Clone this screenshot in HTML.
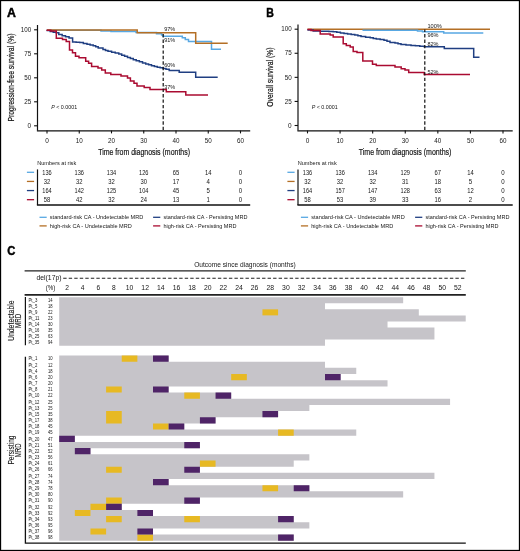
<!DOCTYPE html>
<html><head><meta charset="utf-8"><style>
html,body{margin:0;padding:0;background:#fff;width:520px;height:551px;overflow:hidden}
svg{display:block;will-change:transform}
text{font-family:"Liberation Sans",sans-serif}
</style></head><body>
<svg width="520" height="551" viewBox="0 0 520 551" font-family="Liberation Sans, sans-serif">
<rect x="0" y="0" width="520" height="551" fill="#fff"/>
<text x="7.1" y="17.1" font-size="11.9" text-anchor="start" font-weight="bold" fill="#000" style="stroke:#000;stroke-width:0.45px" textLength="8.9" lengthAdjust="spacingAndGlyphs">A</text>
<line x1="37.5" y1="25" x2="37.5" y2="130.6" stroke="#111" stroke-width="1.2"/>
<line x1="36.9" y1="130.8" x2="250.2" y2="130.8" stroke="#111" stroke-width="1.3"/>
<line x1="34.1" y1="29.8" x2="37.5" y2="29.8" stroke="#111" stroke-width="1.1"/>
<text x="31.2" y="32.0" font-size="6.4" text-anchor="end" font-weight="normal" fill="#161616" textLength="10.4" lengthAdjust="spacingAndGlyphs">100</text>
<line x1="34.1" y1="53.8" x2="37.5" y2="53.8" stroke="#111" stroke-width="1.1"/>
<text x="31.2" y="56.0" font-size="6.4" text-anchor="end" font-weight="normal" fill="#161616" textLength="7" lengthAdjust="spacingAndGlyphs">75</text>
<line x1="34.1" y1="77.8" x2="37.5" y2="77.8" stroke="#111" stroke-width="1.1"/>
<text x="31.2" y="80.0" font-size="6.4" text-anchor="end" font-weight="normal" fill="#161616" textLength="7" lengthAdjust="spacingAndGlyphs">50</text>
<line x1="34.1" y1="101.8" x2="37.5" y2="101.8" stroke="#111" stroke-width="1.1"/>
<text x="31.2" y="104.0" font-size="6.4" text-anchor="end" font-weight="normal" fill="#161616" textLength="7" lengthAdjust="spacingAndGlyphs">25</text>
<line x1="34.1" y1="125.8" x2="37.5" y2="125.8" stroke="#111" stroke-width="1.1"/>
<text x="31.2" y="128.0" font-size="6.4" text-anchor="end" font-weight="normal" fill="#161616" textLength="3.6" lengthAdjust="spacingAndGlyphs">0</text>
<line x1="47.0" y1="130.6" x2="47.0" y2="133.4" stroke="#111" stroke-width="1.1"/>
<text x="47.0" y="142.6" font-size="6.4" text-anchor="middle" font-weight="normal" fill="#161616" textLength="3.6" lengthAdjust="spacingAndGlyphs">0</text>
<line x1="79.25" y1="130.6" x2="79.25" y2="133.4" stroke="#111" stroke-width="1.1"/>
<text x="79.25" y="142.6" font-size="6.4" text-anchor="middle" font-weight="normal" fill="#161616" textLength="7" lengthAdjust="spacingAndGlyphs">10</text>
<line x1="111.5" y1="130.6" x2="111.5" y2="133.4" stroke="#111" stroke-width="1.1"/>
<text x="111.5" y="142.6" font-size="6.4" text-anchor="middle" font-weight="normal" fill="#161616" textLength="7" lengthAdjust="spacingAndGlyphs">20</text>
<line x1="143.75" y1="130.6" x2="143.75" y2="133.4" stroke="#111" stroke-width="1.1"/>
<text x="143.75" y="142.6" font-size="6.4" text-anchor="middle" font-weight="normal" fill="#161616" textLength="7" lengthAdjust="spacingAndGlyphs">30</text>
<line x1="176.0" y1="130.6" x2="176.0" y2="133.4" stroke="#111" stroke-width="1.1"/>
<text x="176.0" y="142.6" font-size="6.4" text-anchor="middle" font-weight="normal" fill="#161616" textLength="7" lengthAdjust="spacingAndGlyphs">40</text>
<line x1="208.25" y1="130.6" x2="208.25" y2="133.4" stroke="#111" stroke-width="1.1"/>
<text x="208.25" y="142.6" font-size="6.4" text-anchor="middle" font-weight="normal" fill="#161616" textLength="7" lengthAdjust="spacingAndGlyphs">50</text>
<line x1="240.5" y1="130.6" x2="240.5" y2="133.4" stroke="#111" stroke-width="1.1"/>
<text x="240.5" y="142.6" font-size="6.4" text-anchor="middle" font-weight="normal" fill="#161616" textLength="7" lengthAdjust="spacingAndGlyphs">60</text>
<text x="98.2" y="154.8" font-size="9.4" text-anchor="start" font-weight="normal" fill="#161616" style="stroke:#161616;stroke-width:0.2px" textLength="91.8" lengthAdjust="spacingAndGlyphs">Time from diagnosis (months)</text>
<text transform="translate(14.3,77.5) rotate(-90)" x="0" y="0" font-size="8.6" text-anchor="middle" fill="#161616" style="stroke:#161616;stroke-width:0.2px" textLength="88" lengthAdjust="spacingAndGlyphs">Progression-free survival (%)</text>
<text x="51.2" y="108.9" font-size="5.6" fill="#161616" textLength="25.9" lengthAdjust="spacingAndGlyphs"><tspan font-style="italic">P</tspan> &lt; 0.0001</text>
<text x="37.2" y="164.8" font-size="6.0" text-anchor="start" font-weight="normal" fill="#161616" textLength="39" lengthAdjust="spacingAndGlyphs">Numbers at risk</text>
<line x1="37.5" y1="169.4" x2="37.5" y2="205" stroke="#111" stroke-width="1.2"/>
<line x1="36.9" y1="205" x2="250.2" y2="205" stroke="#111" stroke-width="1.3"/>
<line x1="26.9" y1="172.3" x2="34.1" y2="172.3" stroke="#58a8e3" stroke-width="1.3"/>
<text x="47.0" y="174.60000000000002" font-size="6.4" text-anchor="middle" font-weight="normal" fill="#161616" textLength="9.4" lengthAdjust="spacingAndGlyphs">136</text>
<text x="79.25" y="174.60000000000002" font-size="6.4" text-anchor="middle" font-weight="normal" fill="#161616" textLength="9.4" lengthAdjust="spacingAndGlyphs">136</text>
<text x="111.5" y="174.60000000000002" font-size="6.4" text-anchor="middle" font-weight="normal" fill="#161616" textLength="9.4" lengthAdjust="spacingAndGlyphs">134</text>
<text x="143.75" y="174.60000000000002" font-size="6.4" text-anchor="middle" font-weight="normal" fill="#161616" textLength="9.4" lengthAdjust="spacingAndGlyphs">126</text>
<text x="176.0" y="174.60000000000002" font-size="6.4" text-anchor="middle" font-weight="normal" fill="#161616" textLength="6.5" lengthAdjust="spacingAndGlyphs">65</text>
<text x="208.25" y="174.60000000000002" font-size="6.4" text-anchor="middle" font-weight="normal" fill="#161616" textLength="6.5" lengthAdjust="spacingAndGlyphs">14</text>
<text x="240.5" y="174.60000000000002" font-size="6.4" text-anchor="middle" font-weight="normal" fill="#161616" textLength="3.4" lengthAdjust="spacingAndGlyphs">0</text>
<line x1="26.9" y1="181.43" x2="34.1" y2="181.43" stroke="#b46f25" stroke-width="1.3"/>
<text x="47.0" y="183.73000000000002" font-size="6.4" text-anchor="middle" font-weight="normal" fill="#161616" textLength="6.5" lengthAdjust="spacingAndGlyphs">32</text>
<text x="79.25" y="183.73000000000002" font-size="6.4" text-anchor="middle" font-weight="normal" fill="#161616" textLength="6.5" lengthAdjust="spacingAndGlyphs">32</text>
<text x="111.5" y="183.73000000000002" font-size="6.4" text-anchor="middle" font-weight="normal" fill="#161616" textLength="6.5" lengthAdjust="spacingAndGlyphs">32</text>
<text x="143.75" y="183.73000000000002" font-size="6.4" text-anchor="middle" font-weight="normal" fill="#161616" textLength="6.5" lengthAdjust="spacingAndGlyphs">30</text>
<text x="176.0" y="183.73000000000002" font-size="6.4" text-anchor="middle" font-weight="normal" fill="#161616" textLength="6.5" lengthAdjust="spacingAndGlyphs">17</text>
<text x="208.25" y="183.73000000000002" font-size="6.4" text-anchor="middle" font-weight="normal" fill="#161616" textLength="3.4" lengthAdjust="spacingAndGlyphs">4</text>
<text x="240.5" y="183.73000000000002" font-size="6.4" text-anchor="middle" font-weight="normal" fill="#161616" textLength="3.4" lengthAdjust="spacingAndGlyphs">0</text>
<line x1="26.9" y1="190.56" x2="34.1" y2="190.56" stroke="#203f82" stroke-width="1.3"/>
<text x="47.0" y="192.86" font-size="6.4" text-anchor="middle" font-weight="normal" fill="#161616" textLength="9.4" lengthAdjust="spacingAndGlyphs">164</text>
<text x="79.25" y="192.86" font-size="6.4" text-anchor="middle" font-weight="normal" fill="#161616" textLength="9.4" lengthAdjust="spacingAndGlyphs">142</text>
<text x="111.5" y="192.86" font-size="6.4" text-anchor="middle" font-weight="normal" fill="#161616" textLength="9.4" lengthAdjust="spacingAndGlyphs">125</text>
<text x="143.75" y="192.86" font-size="6.4" text-anchor="middle" font-weight="normal" fill="#161616" textLength="9.4" lengthAdjust="spacingAndGlyphs">104</text>
<text x="176.0" y="192.86" font-size="6.4" text-anchor="middle" font-weight="normal" fill="#161616" textLength="6.5" lengthAdjust="spacingAndGlyphs">45</text>
<text x="208.25" y="192.86" font-size="6.4" text-anchor="middle" font-weight="normal" fill="#161616" textLength="3.4" lengthAdjust="spacingAndGlyphs">5</text>
<text x="240.5" y="192.86" font-size="6.4" text-anchor="middle" font-weight="normal" fill="#161616" textLength="3.4" lengthAdjust="spacingAndGlyphs">0</text>
<line x1="26.9" y1="199.69" x2="34.1" y2="199.69" stroke="#aa0b31" stroke-width="1.3"/>
<text x="47.0" y="201.99" font-size="6.4" text-anchor="middle" font-weight="normal" fill="#161616" textLength="6.5" lengthAdjust="spacingAndGlyphs">58</text>
<text x="79.25" y="201.99" font-size="6.4" text-anchor="middle" font-weight="normal" fill="#161616" textLength="6.5" lengthAdjust="spacingAndGlyphs">42</text>
<text x="111.5" y="201.99" font-size="6.4" text-anchor="middle" font-weight="normal" fill="#161616" textLength="6.5" lengthAdjust="spacingAndGlyphs">32</text>
<text x="143.75" y="201.99" font-size="6.4" text-anchor="middle" font-weight="normal" fill="#161616" textLength="6.5" lengthAdjust="spacingAndGlyphs">24</text>
<text x="176.0" y="201.99" font-size="6.4" text-anchor="middle" font-weight="normal" fill="#161616" textLength="6.5" lengthAdjust="spacingAndGlyphs">13</text>
<text x="208.25" y="201.99" font-size="6.4" text-anchor="middle" font-weight="normal" fill="#161616" textLength="3.4" lengthAdjust="spacingAndGlyphs">1</text>
<text x="240.5" y="201.99" font-size="6.4" text-anchor="middle" font-weight="normal" fill="#161616" textLength="3.4" lengthAdjust="spacingAndGlyphs">0</text>
<line x1="39.5" y1="217.3" x2="46.7" y2="217.3" stroke="#58a8e3" stroke-width="1.3"/>
<text x="49.8" y="219.4" font-size="6.1" text-anchor="start" font-weight="normal" fill="#161616" textLength="93.5" lengthAdjust="spacingAndGlyphs">standard-risk CA - Undetectable MRD</text>
<line x1="39.5" y1="225.9" x2="46.7" y2="225.9" stroke="#b46f25" stroke-width="1.3"/>
<text x="49.8" y="228.0" font-size="6.1" text-anchor="start" font-weight="normal" fill="#161616" textLength="82" lengthAdjust="spacingAndGlyphs">high-risk CA - Undetectable MRD</text>
<line x1="153.1" y1="217.3" x2="160.29999999999998" y2="217.3" stroke="#203f82" stroke-width="1.3"/>
<text x="163.4" y="219.4" font-size="6.1" text-anchor="start" font-weight="normal" fill="#161616" textLength="84" lengthAdjust="spacingAndGlyphs">standard-risk CA - Persisting MRD</text>
<line x1="153.1" y1="225.9" x2="160.29999999999998" y2="225.9" stroke="#aa0b31" stroke-width="1.3"/>
<text x="163.4" y="228.0" font-size="6.1" text-anchor="start" font-weight="normal" fill="#161616" textLength="73" lengthAdjust="spacingAndGlyphs">high-risk CA - Persisting MRD</text>
<path d="M46.5,30.6 H50.2 V31.5 H53.25 V32.15 H56.3 V32.8 H58.8 V34.6 H62.15 V35.7 H65.5 V36.8 H69.05 V38.05 H72.6 V39.3 H72.6 V42 H76.15 V42.3 H79.7 V42.6 H83.35 V43.4 H87.0 V44.2 H90.1 V44.95 H93.2 V45.7 H95.7 V46.8 H98.2 V47.9 H103.0 V49.6 H105.5 V50.4 H108.0 V51.2 H111.6 V52.13 H115.2 V53.07 H118.8 V54.0 H121.7 V55.17 H124.6 V56.33 H127.5 V57.5 H130.4 V58.57 H133.3 V59.63 H136.2 V60.7 H139.37 V61.8 H142.53 V62.9 H145.7 V64.0 H148.6 V64.87 H151.5 V65.73 H154.4 V66.6 H157.27 V67.23 H160.13 V67.87 H163.0 V68.5 H166.0 V69.2 H169.2 V70.6 H179.2 V72.3 H195.7 V77.2 H217.7" fill="none" stroke="#203f82" stroke-width="1.5"/>
<path d="M47,30.2 H101 V30.9 H111 V31.4 H136 V32.6 H156.5 V33.8 H161.6 V35 H163 V36.3 H182.3 V37.7 H185.3 V39.4 H188.5 V41.5 H211.5 V49.2 H221" fill="none" stroke="#58a8e3" stroke-width="1.5" stroke-linejoin="miter" stroke-linecap="butt"/>
<path d="M47,29.9 H137.2 V32.8 H195.7 V43.3 H227.7" fill="none" stroke="#b46f25" stroke-width="1.5" stroke-linejoin="miter" stroke-linecap="butt"/>
<path d="M46.5,30.3 H50.8 V31 H56.3 V38.3 H62.5 V39.5 H66.2 V41.4 H69.5 V50 H72.5 V52.8 H75.5 V56.2 H79 V57.8 H85.7 V61.2 H88.6 V63.3 H91.6 V66.5 H98 V68 H101.7 V70 H105.3 V73 H110.8 V74.5 H121 V76 H127.5 V78 H130.4 V81 H134 V83.2 H137 V86 H144.2 V87.5 H150 V89.4 H166.3 V91.7 H185.8 V95 H208" fill="none" stroke="#aa0b31" stroke-width="1.5" stroke-linejoin="miter" stroke-linecap="butt"/>
<line x1="163.2" y1="33.8" x2="163.2" y2="130.2" stroke="#111" stroke-width="1.2" stroke-dasharray="3.4 2.05" stroke-dashoffset="5.2"/>
<text x="164.2" y="31.0" font-size="6.0" text-anchor="start" font-weight="normal" fill="#161616" textLength="11.1" lengthAdjust="spacingAndGlyphs">97%</text>
<text x="164.2" y="42.0" font-size="6.0" text-anchor="start" font-weight="normal" fill="#161616" textLength="11.1" lengthAdjust="spacingAndGlyphs">91%</text>
<text x="164.2" y="66.7" font-size="6.0" text-anchor="start" font-weight="normal" fill="#161616" textLength="11.1" lengthAdjust="spacingAndGlyphs">60%</text>
<text x="164.2" y="88.6" font-size="6.0" text-anchor="start" font-weight="normal" fill="#161616" textLength="11.1" lengthAdjust="spacingAndGlyphs">37%</text>
<text x="266.3" y="17.1" font-size="11.9" text-anchor="start" font-weight="bold" fill="#000" style="stroke:#000;stroke-width:0.45px" textLength="7.6" lengthAdjust="spacingAndGlyphs">B</text>
<line x1="298" y1="24.5" x2="298" y2="130.6" stroke="#111" stroke-width="1.2"/>
<line x1="297.4" y1="130.8" x2="512.7" y2="130.8" stroke="#111" stroke-width="1.3"/>
<line x1="294.6" y1="29.2" x2="298" y2="29.2" stroke="#111" stroke-width="1.1"/>
<text x="291.7" y="31.4" font-size="6.4" text-anchor="end" font-weight="normal" fill="#161616" textLength="10.4" lengthAdjust="spacingAndGlyphs">100</text>
<line x1="294.6" y1="53.275" x2="298" y2="53.275" stroke="#111" stroke-width="1.1"/>
<text x="291.7" y="55.475" font-size="6.4" text-anchor="end" font-weight="normal" fill="#161616" textLength="7" lengthAdjust="spacingAndGlyphs">75</text>
<line x1="294.6" y1="77.35" x2="298" y2="77.35" stroke="#111" stroke-width="1.1"/>
<text x="291.7" y="79.55" font-size="6.4" text-anchor="end" font-weight="normal" fill="#161616" textLength="7" lengthAdjust="spacingAndGlyphs">50</text>
<line x1="294.6" y1="101.425" x2="298" y2="101.425" stroke="#111" stroke-width="1.1"/>
<text x="291.7" y="103.625" font-size="6.4" text-anchor="end" font-weight="normal" fill="#161616" textLength="7" lengthAdjust="spacingAndGlyphs">25</text>
<line x1="294.6" y1="125.5" x2="298" y2="125.5" stroke="#111" stroke-width="1.1"/>
<text x="291.7" y="127.7" font-size="6.4" text-anchor="end" font-weight="normal" fill="#161616" textLength="3.6" lengthAdjust="spacingAndGlyphs">0</text>
<line x1="307.5" y1="130.6" x2="307.5" y2="133.4" stroke="#111" stroke-width="1.1"/>
<text x="307.5" y="142.6" font-size="6.4" text-anchor="middle" font-weight="normal" fill="#161616" textLength="3.6" lengthAdjust="spacingAndGlyphs">0</text>
<line x1="340.0833333333333" y1="130.6" x2="340.0833333333333" y2="133.4" stroke="#111" stroke-width="1.1"/>
<text x="340.0833333333333" y="142.6" font-size="6.4" text-anchor="middle" font-weight="normal" fill="#161616" textLength="7" lengthAdjust="spacingAndGlyphs">10</text>
<line x1="372.6666666666667" y1="130.6" x2="372.6666666666667" y2="133.4" stroke="#111" stroke-width="1.1"/>
<text x="372.6666666666667" y="142.6" font-size="6.4" text-anchor="middle" font-weight="normal" fill="#161616" textLength="7" lengthAdjust="spacingAndGlyphs">20</text>
<line x1="405.25" y1="130.6" x2="405.25" y2="133.4" stroke="#111" stroke-width="1.1"/>
<text x="405.25" y="142.6" font-size="6.4" text-anchor="middle" font-weight="normal" fill="#161616" textLength="7" lengthAdjust="spacingAndGlyphs">30</text>
<line x1="437.83333333333337" y1="130.6" x2="437.83333333333337" y2="133.4" stroke="#111" stroke-width="1.1"/>
<text x="437.83333333333337" y="142.6" font-size="6.4" text-anchor="middle" font-weight="normal" fill="#161616" textLength="7" lengthAdjust="spacingAndGlyphs">40</text>
<line x1="470.41666666666663" y1="130.6" x2="470.41666666666663" y2="133.4" stroke="#111" stroke-width="1.1"/>
<text x="470.41666666666663" y="142.6" font-size="6.4" text-anchor="middle" font-weight="normal" fill="#161616" textLength="7" lengthAdjust="spacingAndGlyphs">50</text>
<line x1="503.0" y1="130.6" x2="503.0" y2="133.4" stroke="#111" stroke-width="1.1"/>
<text x="503.0" y="142.6" font-size="6.4" text-anchor="middle" font-weight="normal" fill="#161616" textLength="7" lengthAdjust="spacingAndGlyphs">60</text>
<text x="358.7" y="154.8" font-size="9.4" text-anchor="start" font-weight="normal" fill="#161616" style="stroke:#161616;stroke-width:0.2px" textLength="92.75" lengthAdjust="spacingAndGlyphs">Time from diagnosis (months)</text>
<text transform="translate(273.2,77.1) rotate(-90)" x="0" y="0" font-size="8.6" text-anchor="middle" fill="#161616" style="stroke:#161616;stroke-width:0.2px" textLength="59.2" lengthAdjust="spacingAndGlyphs">Overall survival (%)</text>
<text x="311.7" y="108.9" font-size="5.6" fill="#161616" textLength="25.9" lengthAdjust="spacingAndGlyphs"><tspan font-style="italic">P</tspan> &lt; 0.0001</text>
<text x="297.7" y="164.8" font-size="6.0" text-anchor="start" font-weight="normal" fill="#161616" textLength="39" lengthAdjust="spacingAndGlyphs">Numbers at risk</text>
<line x1="298" y1="169.4" x2="298" y2="205" stroke="#111" stroke-width="1.2"/>
<line x1="297.4" y1="205" x2="512.7" y2="205" stroke="#111" stroke-width="1.3"/>
<line x1="287.4" y1="172.3" x2="294.6" y2="172.3" stroke="#58a8e3" stroke-width="1.3"/>
<text x="307.5" y="174.60000000000002" font-size="6.4" text-anchor="middle" font-weight="normal" fill="#161616" textLength="9.4" lengthAdjust="spacingAndGlyphs">136</text>
<text x="340.0833333333333" y="174.60000000000002" font-size="6.4" text-anchor="middle" font-weight="normal" fill="#161616" textLength="9.4" lengthAdjust="spacingAndGlyphs">136</text>
<text x="372.6666666666667" y="174.60000000000002" font-size="6.4" text-anchor="middle" font-weight="normal" fill="#161616" textLength="9.4" lengthAdjust="spacingAndGlyphs">134</text>
<text x="405.25" y="174.60000000000002" font-size="6.4" text-anchor="middle" font-weight="normal" fill="#161616" textLength="9.4" lengthAdjust="spacingAndGlyphs">129</text>
<text x="437.83333333333337" y="174.60000000000002" font-size="6.4" text-anchor="middle" font-weight="normal" fill="#161616" textLength="6.5" lengthAdjust="spacingAndGlyphs">67</text>
<text x="470.41666666666663" y="174.60000000000002" font-size="6.4" text-anchor="middle" font-weight="normal" fill="#161616" textLength="6.5" lengthAdjust="spacingAndGlyphs">14</text>
<text x="503.0" y="174.60000000000002" font-size="6.4" text-anchor="middle" font-weight="normal" fill="#161616" textLength="3.4" lengthAdjust="spacingAndGlyphs">0</text>
<line x1="287.4" y1="181.43" x2="294.6" y2="181.43" stroke="#b46f25" stroke-width="1.3"/>
<text x="307.5" y="183.73000000000002" font-size="6.4" text-anchor="middle" font-weight="normal" fill="#161616" textLength="6.5" lengthAdjust="spacingAndGlyphs">32</text>
<text x="340.0833333333333" y="183.73000000000002" font-size="6.4" text-anchor="middle" font-weight="normal" fill="#161616" textLength="6.5" lengthAdjust="spacingAndGlyphs">32</text>
<text x="372.6666666666667" y="183.73000000000002" font-size="6.4" text-anchor="middle" font-weight="normal" fill="#161616" textLength="6.5" lengthAdjust="spacingAndGlyphs">32</text>
<text x="405.25" y="183.73000000000002" font-size="6.4" text-anchor="middle" font-weight="normal" fill="#161616" textLength="6.5" lengthAdjust="spacingAndGlyphs">31</text>
<text x="437.83333333333337" y="183.73000000000002" font-size="6.4" text-anchor="middle" font-weight="normal" fill="#161616" textLength="6.5" lengthAdjust="spacingAndGlyphs">18</text>
<text x="470.41666666666663" y="183.73000000000002" font-size="6.4" text-anchor="middle" font-weight="normal" fill="#161616" textLength="3.4" lengthAdjust="spacingAndGlyphs">5</text>
<text x="503.0" y="183.73000000000002" font-size="6.4" text-anchor="middle" font-weight="normal" fill="#161616" textLength="3.4" lengthAdjust="spacingAndGlyphs">0</text>
<line x1="287.4" y1="190.56" x2="294.6" y2="190.56" stroke="#203f82" stroke-width="1.3"/>
<text x="307.5" y="192.86" font-size="6.4" text-anchor="middle" font-weight="normal" fill="#161616" textLength="9.4" lengthAdjust="spacingAndGlyphs">164</text>
<text x="340.0833333333333" y="192.86" font-size="6.4" text-anchor="middle" font-weight="normal" fill="#161616" textLength="9.4" lengthAdjust="spacingAndGlyphs">157</text>
<text x="372.6666666666667" y="192.86" font-size="6.4" text-anchor="middle" font-weight="normal" fill="#161616" textLength="9.4" lengthAdjust="spacingAndGlyphs">147</text>
<text x="405.25" y="192.86" font-size="6.4" text-anchor="middle" font-weight="normal" fill="#161616" textLength="9.4" lengthAdjust="spacingAndGlyphs">128</text>
<text x="437.83333333333337" y="192.86" font-size="6.4" text-anchor="middle" font-weight="normal" fill="#161616" textLength="6.5" lengthAdjust="spacingAndGlyphs">63</text>
<text x="470.41666666666663" y="192.86" font-size="6.4" text-anchor="middle" font-weight="normal" fill="#161616" textLength="6.5" lengthAdjust="spacingAndGlyphs">12</text>
<text x="503.0" y="192.86" font-size="6.4" text-anchor="middle" font-weight="normal" fill="#161616" textLength="3.4" lengthAdjust="spacingAndGlyphs">0</text>
<line x1="287.4" y1="199.69" x2="294.6" y2="199.69" stroke="#aa0b31" stroke-width="1.3"/>
<text x="307.5" y="201.99" font-size="6.4" text-anchor="middle" font-weight="normal" fill="#161616" textLength="6.5" lengthAdjust="spacingAndGlyphs">58</text>
<text x="340.0833333333333" y="201.99" font-size="6.4" text-anchor="middle" font-weight="normal" fill="#161616" textLength="6.5" lengthAdjust="spacingAndGlyphs">53</text>
<text x="372.6666666666667" y="201.99" font-size="6.4" text-anchor="middle" font-weight="normal" fill="#161616" textLength="6.5" lengthAdjust="spacingAndGlyphs">39</text>
<text x="405.25" y="201.99" font-size="6.4" text-anchor="middle" font-weight="normal" fill="#161616" textLength="6.5" lengthAdjust="spacingAndGlyphs">33</text>
<text x="437.83333333333337" y="201.99" font-size="6.4" text-anchor="middle" font-weight="normal" fill="#161616" textLength="6.5" lengthAdjust="spacingAndGlyphs">16</text>
<text x="470.41666666666663" y="201.99" font-size="6.4" text-anchor="middle" font-weight="normal" fill="#161616" textLength="3.4" lengthAdjust="spacingAndGlyphs">2</text>
<text x="503.0" y="201.99" font-size="6.4" text-anchor="middle" font-weight="normal" fill="#161616" textLength="3.4" lengthAdjust="spacingAndGlyphs">0</text>
<line x1="300.9" y1="217.3" x2="308.09999999999997" y2="217.3" stroke="#58a8e3" stroke-width="1.3"/>
<text x="311.2" y="219.4" font-size="6.1" text-anchor="start" font-weight="normal" fill="#161616" textLength="93.5" lengthAdjust="spacingAndGlyphs">standard-risk CA - Undetectable MRD</text>
<line x1="300.9" y1="225.9" x2="308.09999999999997" y2="225.9" stroke="#b46f25" stroke-width="1.3"/>
<text x="311.2" y="228.0" font-size="6.1" text-anchor="start" font-weight="normal" fill="#161616" textLength="82" lengthAdjust="spacingAndGlyphs">high-risk CA - Undetectable MRD</text>
<line x1="415.1" y1="217.3" x2="422.3" y2="217.3" stroke="#203f82" stroke-width="1.3"/>
<text x="425.40000000000003" y="219.4" font-size="6.1" text-anchor="start" font-weight="normal" fill="#161616" textLength="84" lengthAdjust="spacingAndGlyphs">standard-risk CA - Persisting MRD</text>
<line x1="415.1" y1="225.9" x2="422.3" y2="225.9" stroke="#aa0b31" stroke-width="1.3"/>
<text x="425.40000000000003" y="228.0" font-size="6.1" text-anchor="start" font-weight="normal" fill="#161616" textLength="73" lengthAdjust="spacingAndGlyphs">high-risk CA - Persisting MRD</text>
<path d="M307.5,29.2 H490" fill="none" stroke="#b46f25" stroke-width="1.5" stroke-linejoin="miter" stroke-linecap="butt"/>
<path d="M362.5,30.2 H417.5 V31 H422.5 V31.8 H443.7 V33 H483.3" fill="none" stroke="#58a8e3" stroke-width="1.5" stroke-linejoin="miter" stroke-linecap="butt"/>
<path d="M307.4,29.9 H313.2 V30.9 H316.7 V31.05 H320.2 V31.2 H324.53 V31.37 H328.87 V31.53 H333.2 V31.7 H336.8 V32.3 H340.4 V32.9 H344.0 V33.5 H347.6 V34.0 H351.2 V34.5 H354.8 V35.0 H357.9 V35.8 H361.0 V36.6 H365.6 V37.2 H370.2 V37.8 H373.25 V38.4 H376.3 V39.0 H380.15 V39.6 H384.0 V40.2 H387.0 V41.35 H390.0 V42.5 H395.0 V43.0 H398.0 V43.8 H401.0 V44.6 H406.0 V45.0 H411.0 V45.4 H415.4 V45.83 H419.8 V46.27 H424.2 V46.7 H444.3 V48.4 H473.7 V57.2 H479.5" fill="none" stroke="#203f82" stroke-width="1.5"/>
<path d="M307.4,29.5 H311 V30.5 H320.2 V34 H330.2 V35 H333.2 V37.1 H343.2 V43.7 H346.3 V45.5 H350.2 V47 H353.2 V51.4 H357 V52.5 H362.8 V61 H372.5 V64.3 H376.3 V65.5 H395 V67 H401.2 V68.7 H405 V70 H408.7 V72.5 H424.2 V74.5 H470" fill="none" stroke="#aa0b31" stroke-width="1.5" stroke-linejoin="miter" stroke-linecap="butt"/>
<line x1="424.8" y1="29.5" x2="424.8" y2="130.2" stroke="#111" stroke-width="1.2" stroke-dasharray="3.4 2.05" stroke-dashoffset="0.9"/>
<text x="427.4" y="28.3" font-size="6.0" text-anchor="start" font-weight="normal" fill="#161616" textLength="14.5" lengthAdjust="spacingAndGlyphs">100%</text>
<text x="427.4" y="37.2" font-size="6.0" text-anchor="start" font-weight="normal" fill="#161616" textLength="11.1" lengthAdjust="spacingAndGlyphs">96%</text>
<text x="427.4" y="45.7" font-size="6.0" text-anchor="start" font-weight="normal" fill="#161616" textLength="11.1" lengthAdjust="spacingAndGlyphs">82%</text>
<text x="427.4" y="74" font-size="6.0" text-anchor="start" font-weight="normal" fill="#161616" textLength="11.1" lengthAdjust="spacingAndGlyphs">52%</text>
<text x="7.3" y="254.7" font-size="12.4" text-anchor="start" font-weight="bold" fill="#000" style="stroke:#000;stroke-width:0.45px" textLength="8.1" lengthAdjust="spacingAndGlyphs">C</text>
<text x="194.2" y="267.1" font-size="6.9" text-anchor="start" font-weight="normal" fill="#161616" textLength="101.6" lengthAdjust="spacingAndGlyphs">Outcome since diagnosis (months)</text>
<line x1="24.6" y1="270.9" x2="465.8" y2="270.9" stroke="#222" stroke-width="1.3"/>
<text x="36.5" y="280.3" font-size="6.8" text-anchor="start" font-weight="normal" fill="#161616" textLength="25" lengthAdjust="spacingAndGlyphs">del(17p)</text>
<line x1="63.2" y1="278.2" x2="464.5" y2="278.2" stroke="#222" stroke-width="1.1" stroke-dasharray="3.4 2.124"/>
<text x="50.5" y="290.4" font-size="6.6" text-anchor="middle" font-weight="normal" fill="#161616" textLength="9.6" lengthAdjust="spacingAndGlyphs">(%)</text>
<text x="67.02" y="290.4" font-size="6.6" text-anchor="middle" font-weight="normal" fill="#161616" textLength="3.7" lengthAdjust="spacingAndGlyphs">2</text>
<text x="82.65" y="290.4" font-size="6.6" text-anchor="middle" font-weight="normal" fill="#161616" textLength="3.7" lengthAdjust="spacingAndGlyphs">4</text>
<text x="98.29" y="290.4" font-size="6.6" text-anchor="middle" font-weight="normal" fill="#161616" textLength="3.7" lengthAdjust="spacingAndGlyphs">6</text>
<text x="113.92" y="290.4" font-size="6.6" text-anchor="middle" font-weight="normal" fill="#161616" textLength="3.7" lengthAdjust="spacingAndGlyphs">8</text>
<text x="129.56" y="290.4" font-size="6.6" text-anchor="middle" font-weight="normal" fill="#161616" textLength="7.6" lengthAdjust="spacingAndGlyphs">10</text>
<text x="145.19" y="290.4" font-size="6.6" text-anchor="middle" font-weight="normal" fill="#161616" textLength="7.6" lengthAdjust="spacingAndGlyphs">12</text>
<text x="160.83" y="290.4" font-size="6.6" text-anchor="middle" font-weight="normal" fill="#161616" textLength="7.6" lengthAdjust="spacingAndGlyphs">14</text>
<text x="176.46" y="290.4" font-size="6.6" text-anchor="middle" font-weight="normal" fill="#161616" textLength="7.6" lengthAdjust="spacingAndGlyphs">16</text>
<text x="192.1" y="290.4" font-size="6.6" text-anchor="middle" font-weight="normal" fill="#161616" textLength="7.6" lengthAdjust="spacingAndGlyphs">18</text>
<text x="207.73" y="290.4" font-size="6.6" text-anchor="middle" font-weight="normal" fill="#161616" textLength="7.6" lengthAdjust="spacingAndGlyphs">20</text>
<text x="223.37" y="290.4" font-size="6.6" text-anchor="middle" font-weight="normal" fill="#161616" textLength="7.6" lengthAdjust="spacingAndGlyphs">22</text>
<text x="239.0" y="290.4" font-size="6.6" text-anchor="middle" font-weight="normal" fill="#161616" textLength="7.6" lengthAdjust="spacingAndGlyphs">24</text>
<text x="254.64" y="290.4" font-size="6.6" text-anchor="middle" font-weight="normal" fill="#161616" textLength="7.6" lengthAdjust="spacingAndGlyphs">26</text>
<text x="270.27" y="290.4" font-size="6.6" text-anchor="middle" font-weight="normal" fill="#161616" textLength="7.6" lengthAdjust="spacingAndGlyphs">28</text>
<text x="285.91" y="290.4" font-size="6.6" text-anchor="middle" font-weight="normal" fill="#161616" textLength="7.6" lengthAdjust="spacingAndGlyphs">30</text>
<text x="301.54" y="290.4" font-size="6.6" text-anchor="middle" font-weight="normal" fill="#161616" textLength="7.6" lengthAdjust="spacingAndGlyphs">32</text>
<text x="317.18" y="290.4" font-size="6.6" text-anchor="middle" font-weight="normal" fill="#161616" textLength="7.6" lengthAdjust="spacingAndGlyphs">34</text>
<text x="332.81" y="290.4" font-size="6.6" text-anchor="middle" font-weight="normal" fill="#161616" textLength="7.6" lengthAdjust="spacingAndGlyphs">36</text>
<text x="348.45" y="290.4" font-size="6.6" text-anchor="middle" font-weight="normal" fill="#161616" textLength="7.6" lengthAdjust="spacingAndGlyphs">38</text>
<text x="364.08" y="290.4" font-size="6.6" text-anchor="middle" font-weight="normal" fill="#161616" textLength="7.6" lengthAdjust="spacingAndGlyphs">40</text>
<text x="379.72" y="290.4" font-size="6.6" text-anchor="middle" font-weight="normal" fill="#161616" textLength="7.6" lengthAdjust="spacingAndGlyphs">42</text>
<text x="395.35" y="290.4" font-size="6.6" text-anchor="middle" font-weight="normal" fill="#161616" textLength="7.6" lengthAdjust="spacingAndGlyphs">44</text>
<text x="410.99" y="290.4" font-size="6.6" text-anchor="middle" font-weight="normal" fill="#161616" textLength="7.6" lengthAdjust="spacingAndGlyphs">46</text>
<text x="426.62" y="290.4" font-size="6.6" text-anchor="middle" font-weight="normal" fill="#161616" textLength="7.6" lengthAdjust="spacingAndGlyphs">48</text>
<text x="442.26" y="290.4" font-size="6.6" text-anchor="middle" font-weight="normal" fill="#161616" textLength="7.6" lengthAdjust="spacingAndGlyphs">50</text>
<text x="457.89" y="290.4" font-size="6.6" text-anchor="middle" font-weight="normal" fill="#161616" textLength="7.6" lengthAdjust="spacingAndGlyphs">52</text>
<line x1="24.6" y1="294.95" x2="465.8" y2="294.95" stroke="#222" stroke-width="1.7"/>
<text x="28.4" y="301.98" font-size="4.9" text-anchor="start" font-weight="normal" fill="#161616" textLength="8.9" lengthAdjust="spacingAndGlyphs">Pt_3</text>
<text x="50.2" y="301.98" font-size="4.9" text-anchor="middle" font-weight="normal" fill="#161616" textLength="4.6" lengthAdjust="spacingAndGlyphs">14</text>
<text x="28.4" y="308.04" font-size="4.9" text-anchor="start" font-weight="normal" fill="#161616" textLength="8.9" lengthAdjust="spacingAndGlyphs">Pt_5</text>
<text x="50.2" y="308.04" font-size="4.9" text-anchor="middle" font-weight="normal" fill="#161616" textLength="4.6" lengthAdjust="spacingAndGlyphs">18</text>
<text x="28.4" y="314.1" font-size="4.9" text-anchor="start" font-weight="normal" fill="#161616" textLength="8.9" lengthAdjust="spacingAndGlyphs">Pt_9</text>
<text x="50.2" y="314.1" font-size="4.9" text-anchor="middle" font-weight="normal" fill="#161616" textLength="4.6" lengthAdjust="spacingAndGlyphs">22</text>
<text x="28.4" y="320.16" font-size="4.9" text-anchor="start" font-weight="normal" fill="#161616" textLength="11.0" lengthAdjust="spacingAndGlyphs">Pt_11</text>
<text x="50.2" y="320.16" font-size="4.9" text-anchor="middle" font-weight="normal" fill="#161616" textLength="4.6" lengthAdjust="spacingAndGlyphs">23</text>
<text x="28.4" y="326.22" font-size="4.9" text-anchor="start" font-weight="normal" fill="#161616" textLength="11.0" lengthAdjust="spacingAndGlyphs">Pt_14</text>
<text x="50.2" y="326.22" font-size="4.9" text-anchor="middle" font-weight="normal" fill="#161616" textLength="4.6" lengthAdjust="spacingAndGlyphs">30</text>
<text x="28.4" y="332.28" font-size="4.9" text-anchor="start" font-weight="normal" fill="#161616" textLength="11.0" lengthAdjust="spacingAndGlyphs">Pt_16</text>
<text x="50.2" y="332.28" font-size="4.9" text-anchor="middle" font-weight="normal" fill="#161616" textLength="4.6" lengthAdjust="spacingAndGlyphs">35</text>
<text x="28.4" y="338.34" font-size="4.9" text-anchor="start" font-weight="normal" fill="#161616" textLength="11.0" lengthAdjust="spacingAndGlyphs">Pt_25</text>
<text x="50.2" y="338.34" font-size="4.9" text-anchor="middle" font-weight="normal" fill="#161616" textLength="4.6" lengthAdjust="spacingAndGlyphs">63</text>
<text x="28.4" y="344.4" font-size="4.9" text-anchor="start" font-weight="normal" fill="#161616" textLength="11.0" lengthAdjust="spacingAndGlyphs">Pt_35</text>
<text x="50.2" y="344.4" font-size="4.9" text-anchor="middle" font-weight="normal" fill="#161616" textLength="4.6" lengthAdjust="spacingAndGlyphs">94</text>
<path d="M59.2,297.20h343.97v6.060h-343.97z M59.2,303.26h265.80v6.060h-265.80z M59.2,309.32h359.61v6.060h-359.61z M59.2,315.38h406.51v6.060h-406.51z M59.2,321.44h328.33v6.060h-328.33z M59.2,327.50h375.24v6.060h-375.24z M59.2,333.56h375.24v6.060h-375.24z M59.2,339.62h265.80v6.060h-265.80z" fill="#c6c4c9"/>
<path d="M262.45,309.32h15.63v6.060h-15.63z" fill="#e7b923"/>
<text x="28.4" y="360.34" font-size="4.9" text-anchor="start" font-weight="normal" fill="#161616" textLength="8.9" lengthAdjust="spacingAndGlyphs">Pt_1</text>
<text x="50.2" y="360.34" font-size="4.9" text-anchor="middle" font-weight="normal" fill="#161616" textLength="4.6" lengthAdjust="spacingAndGlyphs">10</text>
<text x="28.4" y="366.51" font-size="4.9" text-anchor="start" font-weight="normal" fill="#161616" textLength="8.9" lengthAdjust="spacingAndGlyphs">Pt_2</text>
<text x="50.2" y="366.51" font-size="4.9" text-anchor="middle" font-weight="normal" fill="#161616" textLength="4.6" lengthAdjust="spacingAndGlyphs">12</text>
<text x="28.4" y="372.69" font-size="4.9" text-anchor="start" font-weight="normal" fill="#161616" textLength="8.9" lengthAdjust="spacingAndGlyphs">Pt_4</text>
<text x="50.2" y="372.69" font-size="4.9" text-anchor="middle" font-weight="normal" fill="#161616" textLength="4.6" lengthAdjust="spacingAndGlyphs">18</text>
<text x="28.4" y="378.86" font-size="4.9" text-anchor="start" font-weight="normal" fill="#161616" textLength="8.9" lengthAdjust="spacingAndGlyphs">Pt_6</text>
<text x="50.2" y="378.86" font-size="4.9" text-anchor="middle" font-weight="normal" fill="#161616" textLength="4.6" lengthAdjust="spacingAndGlyphs">20</text>
<text x="28.4" y="385.04" font-size="4.9" text-anchor="start" font-weight="normal" fill="#161616" textLength="8.9" lengthAdjust="spacingAndGlyphs">Pt_7</text>
<text x="50.2" y="385.04" font-size="4.9" text-anchor="middle" font-weight="normal" fill="#161616" textLength="4.6" lengthAdjust="spacingAndGlyphs">20</text>
<text x="28.4" y="391.21" font-size="4.9" text-anchor="start" font-weight="normal" fill="#161616" textLength="8.9" lengthAdjust="spacingAndGlyphs">Pt_8</text>
<text x="50.2" y="391.21" font-size="4.9" text-anchor="middle" font-weight="normal" fill="#161616" textLength="4.6" lengthAdjust="spacingAndGlyphs">21</text>
<text x="28.4" y="397.39" font-size="4.9" text-anchor="start" font-weight="normal" fill="#161616" textLength="11.0" lengthAdjust="spacingAndGlyphs">Pt_10</text>
<text x="50.2" y="397.39" font-size="4.9" text-anchor="middle" font-weight="normal" fill="#161616" textLength="4.6" lengthAdjust="spacingAndGlyphs">22</text>
<text x="28.4" y="403.56" font-size="4.9" text-anchor="start" font-weight="normal" fill="#161616" textLength="11.0" lengthAdjust="spacingAndGlyphs">Pt_12</text>
<text x="50.2" y="403.56" font-size="4.9" text-anchor="middle" font-weight="normal" fill="#161616" textLength="4.6" lengthAdjust="spacingAndGlyphs">25</text>
<text x="28.4" y="409.74" font-size="4.9" text-anchor="start" font-weight="normal" fill="#161616" textLength="11.0" lengthAdjust="spacingAndGlyphs">Pt_13</text>
<text x="50.2" y="409.74" font-size="4.9" text-anchor="middle" font-weight="normal" fill="#161616" textLength="4.6" lengthAdjust="spacingAndGlyphs">25</text>
<text x="28.4" y="415.91" font-size="4.9" text-anchor="start" font-weight="normal" fill="#161616" textLength="11.0" lengthAdjust="spacingAndGlyphs">Pt_15</text>
<text x="50.2" y="415.91" font-size="4.9" text-anchor="middle" font-weight="normal" fill="#161616" textLength="4.6" lengthAdjust="spacingAndGlyphs">35</text>
<text x="28.4" y="422.09" font-size="4.9" text-anchor="start" font-weight="normal" fill="#161616" textLength="11.0" lengthAdjust="spacingAndGlyphs">Pt_17</text>
<text x="50.2" y="422.09" font-size="4.9" text-anchor="middle" font-weight="normal" fill="#161616" textLength="4.6" lengthAdjust="spacingAndGlyphs">38</text>
<text x="28.4" y="428.26" font-size="4.9" text-anchor="start" font-weight="normal" fill="#161616" textLength="11.0" lengthAdjust="spacingAndGlyphs">Pt_18</text>
<text x="50.2" y="428.26" font-size="4.9" text-anchor="middle" font-weight="normal" fill="#161616" textLength="4.6" lengthAdjust="spacingAndGlyphs">45</text>
<text x="28.4" y="434.44" font-size="4.9" text-anchor="start" font-weight="normal" fill="#161616" textLength="11.0" lengthAdjust="spacingAndGlyphs">Pt_19</text>
<text x="50.2" y="434.44" font-size="4.9" text-anchor="middle" font-weight="normal" fill="#161616" textLength="4.6" lengthAdjust="spacingAndGlyphs">45</text>
<text x="28.4" y="440.61" font-size="4.9" text-anchor="start" font-weight="normal" fill="#161616" textLength="11.0" lengthAdjust="spacingAndGlyphs">Pt_20</text>
<text x="50.2" y="440.61" font-size="4.9" text-anchor="middle" font-weight="normal" fill="#161616" textLength="4.6" lengthAdjust="spacingAndGlyphs">47</text>
<text x="28.4" y="446.79" font-size="4.9" text-anchor="start" font-weight="normal" fill="#161616" textLength="11.0" lengthAdjust="spacingAndGlyphs">Pt_21</text>
<text x="50.2" y="446.79" font-size="4.9" text-anchor="middle" font-weight="normal" fill="#161616" textLength="4.6" lengthAdjust="spacingAndGlyphs">51</text>
<text x="28.4" y="452.96" font-size="4.9" text-anchor="start" font-weight="normal" fill="#161616" textLength="11.0" lengthAdjust="spacingAndGlyphs">Pt_22</text>
<text x="50.2" y="452.96" font-size="4.9" text-anchor="middle" font-weight="normal" fill="#161616" textLength="4.6" lengthAdjust="spacingAndGlyphs">52</text>
<text x="28.4" y="459.14" font-size="4.9" text-anchor="start" font-weight="normal" fill="#161616" textLength="11.0" lengthAdjust="spacingAndGlyphs">Pt_23</text>
<text x="50.2" y="459.14" font-size="4.9" text-anchor="middle" font-weight="normal" fill="#161616" textLength="4.6" lengthAdjust="spacingAndGlyphs">56</text>
<text x="28.4" y="465.31" font-size="4.9" text-anchor="start" font-weight="normal" fill="#161616" textLength="11.0" lengthAdjust="spacingAndGlyphs">Pt_24</text>
<text x="50.2" y="465.31" font-size="4.9" text-anchor="middle" font-weight="normal" fill="#161616" textLength="4.6" lengthAdjust="spacingAndGlyphs">61</text>
<text x="28.4" y="471.49" font-size="4.9" text-anchor="start" font-weight="normal" fill="#161616" textLength="11.0" lengthAdjust="spacingAndGlyphs">Pt_26</text>
<text x="50.2" y="471.49" font-size="4.9" text-anchor="middle" font-weight="normal" fill="#161616" textLength="4.6" lengthAdjust="spacingAndGlyphs">66</text>
<text x="28.4" y="477.66" font-size="4.9" text-anchor="start" font-weight="normal" fill="#161616" textLength="11.0" lengthAdjust="spacingAndGlyphs">Pt_27</text>
<text x="50.2" y="477.66" font-size="4.9" text-anchor="middle" font-weight="normal" fill="#161616" textLength="4.6" lengthAdjust="spacingAndGlyphs">74</text>
<text x="28.4" y="483.84" font-size="4.9" text-anchor="start" font-weight="normal" fill="#161616" textLength="11.0" lengthAdjust="spacingAndGlyphs">Pt_28</text>
<text x="50.2" y="483.84" font-size="4.9" text-anchor="middle" font-weight="normal" fill="#161616" textLength="4.6" lengthAdjust="spacingAndGlyphs">74</text>
<text x="28.4" y="490.01" font-size="4.9" text-anchor="start" font-weight="normal" fill="#161616" textLength="11.0" lengthAdjust="spacingAndGlyphs">Pt_29</text>
<text x="50.2" y="490.01" font-size="4.9" text-anchor="middle" font-weight="normal" fill="#161616" textLength="4.6" lengthAdjust="spacingAndGlyphs">78</text>
<text x="28.4" y="496.19" font-size="4.9" text-anchor="start" font-weight="normal" fill="#161616" textLength="11.0" lengthAdjust="spacingAndGlyphs">Pt_30</text>
<text x="50.2" y="496.19" font-size="4.9" text-anchor="middle" font-weight="normal" fill="#161616" textLength="4.6" lengthAdjust="spacingAndGlyphs">80</text>
<text x="28.4" y="502.36" font-size="4.9" text-anchor="start" font-weight="normal" fill="#161616" textLength="11.0" lengthAdjust="spacingAndGlyphs">Pt_31</text>
<text x="50.2" y="502.36" font-size="4.9" text-anchor="middle" font-weight="normal" fill="#161616" textLength="4.6" lengthAdjust="spacingAndGlyphs">90</text>
<text x="28.4" y="508.54" font-size="4.9" text-anchor="start" font-weight="normal" fill="#161616" textLength="11.0" lengthAdjust="spacingAndGlyphs">Pt_32</text>
<text x="50.2" y="508.54" font-size="4.9" text-anchor="middle" font-weight="normal" fill="#161616" textLength="4.6" lengthAdjust="spacingAndGlyphs">92</text>
<text x="28.4" y="514.71" font-size="4.9" text-anchor="start" font-weight="normal" fill="#161616" textLength="11.0" lengthAdjust="spacingAndGlyphs">Pt_33</text>
<text x="50.2" y="514.71" font-size="4.9" text-anchor="middle" font-weight="normal" fill="#161616" textLength="4.6" lengthAdjust="spacingAndGlyphs">92</text>
<text x="28.4" y="520.89" font-size="4.9" text-anchor="start" font-weight="normal" fill="#161616" textLength="11.0" lengthAdjust="spacingAndGlyphs">Pt_34</text>
<text x="50.2" y="520.89" font-size="4.9" text-anchor="middle" font-weight="normal" fill="#161616" textLength="4.6" lengthAdjust="spacingAndGlyphs">93</text>
<text x="28.4" y="527.06" font-size="4.9" text-anchor="start" font-weight="normal" fill="#161616" textLength="11.0" lengthAdjust="spacingAndGlyphs">Pt_36</text>
<text x="50.2" y="527.06" font-size="4.9" text-anchor="middle" font-weight="normal" fill="#161616" textLength="4.6" lengthAdjust="spacingAndGlyphs">95</text>
<text x="28.4" y="533.24" font-size="4.9" text-anchor="start" font-weight="normal" fill="#161616" textLength="11.0" lengthAdjust="spacingAndGlyphs">Pt_37</text>
<text x="50.2" y="533.24" font-size="4.9" text-anchor="middle" font-weight="normal" fill="#161616" textLength="4.6" lengthAdjust="spacingAndGlyphs">96</text>
<text x="28.4" y="539.41" font-size="4.9" text-anchor="start" font-weight="normal" fill="#161616" textLength="11.0" lengthAdjust="spacingAndGlyphs">Pt_38</text>
<text x="50.2" y="539.41" font-size="4.9" text-anchor="middle" font-weight="normal" fill="#161616" textLength="4.6" lengthAdjust="spacingAndGlyphs">98</text>
<path d="M59.2,355.50h109.44v6.175h-109.44z M59.2,361.68h265.80v6.175h-265.80z M59.2,367.85h297.06v6.175h-297.06z M59.2,374.02h281.43v6.175h-281.43z M59.2,380.20h328.33v6.175h-328.33z M59.2,386.38h109.44v6.175h-109.44z M59.2,392.55h171.98v6.175h-171.98z M59.2,398.73h390.88v6.175h-390.88z M59.2,404.90h250.16v6.175h-250.16z M59.2,411.07h218.89v6.175h-218.89z M59.2,417.25h156.35v6.175h-156.35z M59.2,423.43h125.08v6.175h-125.08z M59.2,429.60h297.06v6.175h-297.06z M59.2,435.77h15.63v6.175h-15.63z M59.2,441.95h140.72v6.175h-140.72z M59.2,448.12h31.27v6.175h-31.27z M59.2,454.30h250.16v6.175h-250.16z M59.2,460.48h234.53v6.175h-234.53z M59.2,466.65h140.72v6.175h-140.72z M59.2,472.82h375.24v6.175h-375.24z M59.2,479.00h109.44v6.175h-109.44z M59.2,485.17h250.16v6.175h-250.16z M59.2,491.35h343.97v6.175h-343.97z M59.2,497.52h140.72v6.175h-140.72z M59.2,503.70h62.54v6.175h-62.54z M59.2,509.88h93.81v6.175h-93.81z M59.2,516.05h234.53v6.175h-234.53z M59.2,522.23h250.16v6.175h-250.16z M59.2,528.40h93.81v6.175h-93.81z M59.2,534.58h234.53v6.175h-234.53z" fill="#c6c4c9"/>
<path d="M121.74,355.50h15.63v6.175h-15.63z M231.19,374.02h15.63v6.175h-15.63z M106.11,386.38h15.63v6.175h-15.63z M184.28,392.55h15.63v6.175h-15.63z M106.11,411.07h15.63v6.175h-15.63z M106.11,417.25h15.63v6.175h-15.63z M153.01,423.43h15.63v6.175h-15.63z M278.09,429.60h15.63v6.175h-15.63z M199.92,460.48h15.63v6.175h-15.63z M106.11,466.65h15.63v6.175h-15.63z M262.45,485.17h15.63v6.175h-15.63z M106.11,497.52h15.63v6.175h-15.63z M90.47,503.70h15.63v6.175h-15.63z M74.84,509.88h15.63v6.175h-15.63z M106.11,516.05h15.63v6.175h-15.63z M184.28,516.05h15.63v6.175h-15.63z M90.47,528.40h15.63v6.175h-15.63z M137.38,534.58h15.63v6.175h-15.63z" fill="#e7b923"/>
<path d="M153.01,355.50h15.63v6.175h-15.63z M325.00,374.02h15.63v6.175h-15.63z M153.01,386.38h15.63v6.175h-15.63z M215.55,392.55h15.63v6.175h-15.63z M262.45,411.07h15.63v6.175h-15.63z M199.92,417.25h15.63v6.175h-15.63z M168.64,423.43h15.63v6.175h-15.63z M59.20,435.77h15.63v6.175h-15.63z M184.28,441.95h15.63v6.175h-15.63z M74.84,448.12h15.63v6.175h-15.63z M184.28,466.65h15.63v6.175h-15.63z M153.01,479.00h15.63v6.175h-15.63z M293.73,485.17h15.63v6.175h-15.63z M184.28,497.52h15.63v6.175h-15.63z M106.11,503.70h15.63v6.175h-15.63z M137.38,509.88h15.63v6.175h-15.63z M278.09,516.05h15.63v6.175h-15.63z M137.38,528.40h15.63v6.175h-15.63z M278.09,534.58h15.63v6.175h-15.63z" fill="#4f2467"/>
<line x1="25.4" y1="297.1" x2="25.4" y2="345.2" stroke="#111" stroke-width="1.2"/>
<path d="M25.4,356.8 V543.2 H465.8" fill="none" stroke="#111" stroke-width="1.3"/>
<text transform="translate(13.6,320.7) rotate(-90)" font-size="8.2" text-anchor="middle" fill="#161616" style="stroke:#161616;stroke-width:0.12px" textLength="40.7" lengthAdjust="spacingAndGlyphs">Undetectable</text>
<text transform="translate(21.4,320.8) rotate(-90)" font-size="8.2" text-anchor="middle" fill="#161616" style="stroke:#161616;stroke-width:0.12px" textLength="14.2" lengthAdjust="spacingAndGlyphs">MRD</text>
<text transform="translate(13.6,450) rotate(-90)" font-size="8.2" text-anchor="middle" fill="#161616" style="stroke:#161616;stroke-width:0.12px" textLength="29.1" lengthAdjust="spacingAndGlyphs">Persisting</text>
<text transform="translate(21.4,450.4) rotate(-90)" font-size="8.2" text-anchor="middle" fill="#161616" style="stroke:#161616;stroke-width:0.12px" textLength="13.8" lengthAdjust="spacingAndGlyphs">MRD</text>
<rect x="0.5" y="0.5" width="519" height="550" fill="none" stroke="#000" stroke-width="1.3"/>
</svg>
</body></html>
